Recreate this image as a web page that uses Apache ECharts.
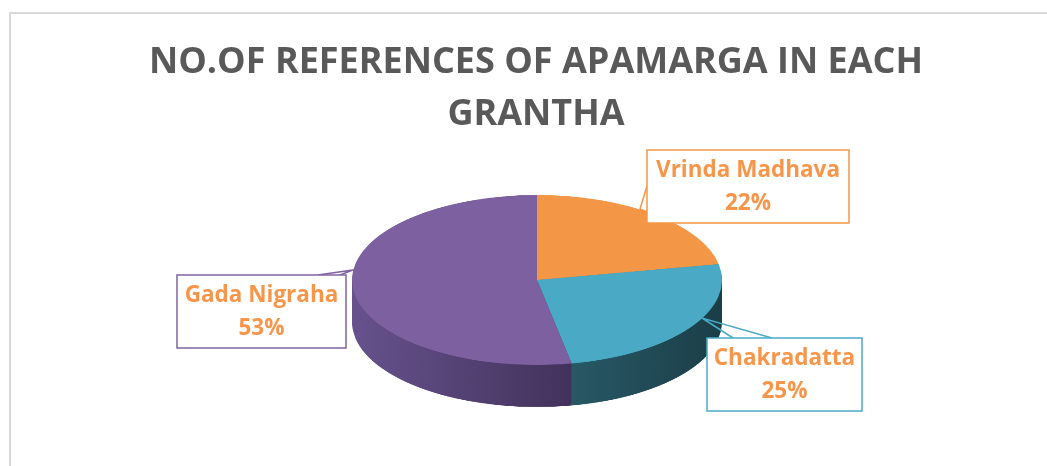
<!DOCTYPE html>
<html>
<head>
<meta charset="utf-8">
<script src="https://cdn.jsdelivr.net/npm/echarts@6/dist/echarts.min.js"></script>
<style>
html,body{margin:0;padding:0;background:#fff;overflow:hidden;width:1047px;height:466px;}
#pie{position:absolute;left:0;top:0;width:1047px;height:900px;transform:scaleY(0.4595);transform-origin:0 0;}
#top{position:absolute;left:0;top:0;width:1047px;height:466px;}
</style>
</head>
<body>
<div id="pie"></div>
<div id="top"></div>
<script>
// ---- data ----
const titleText = 'NO.OF REFERENCES OF APAMARGA IN EACH\nGRANTHA';
const categories = ['Vrinda Madhava', 'Chakradatta', 'Gada Nigraha'];
const values = [22, 25, 53];
const faceColors = ['#F39646', '#4AA9C4', '#7D60A0'];
const sideColors = [
  ['#c47634', '#9c5a24'],
  ['#2a5f6c', '#1b3e48'],
  ['#67528d', '#42325b']
];
const boxColors = ['#F79646', '#8064A2', '#4BACC6'];

// ---- pie layer (squashed to an ellipse) ----
const SCALE = 0.4595;
const CX = 537, CY_SCREEN = 280, R = 185, DEPTH_SCREEN = 42;
const cyU = CY_SCREEN / SCALE;
const depthU = DEPTH_SCREEN / SCALE;
const N = 24;

function pieData(colorFn) {
  return categories.map((c, i) => ({ name: c, value: values[i], itemStyle: { color: colorFn(i) } }));
}
const pieSeries = [];
for (let k = N; k >= 1; k--) {
  pieSeries.push({
    type: 'pie', silent: true, animation: false,
    center: [CX, cyU + depthU * k / N], radius: R,
    startAngle: 90, clockwise: true, z: N - k,
    label: { show: false }, labelLine: { show: false },
    data: pieData(i => ({
      type: 'linear', x: 0, y: 0, x2: 1, y2: 0,
      colorStops: [{ offset: 0, color: sideColors[i][0] }, { offset: 1, color: sideColors[i][1] }]
    }))
  });
}
pieSeries.push({
  type: 'pie', silent: true, animation: false,
  center: [CX, cyU], radius: R, startAngle: 90, clockwise: true, z: N + 1,
  label: { show: false }, labelLine: { show: false },
  data: pieData(i => faceColors[i])
});
const pieChart = echarts.init(document.getElementById('pie'), null, { renderer: 'canvas' });
pieChart.setOption({ animation: false, series: pieSeries });

// ---- overlay: frame, title, callout labels ----
const total = values.reduce((a, b) => a + b, 0);
const pct = values.map(v => Math.round(v / total * 100) + '%');
const labelIdx = [0, 2, 1];
const boxes = [
  { x: 647, y: 150, w: 202, h: 73 },
  { x: 177, y: 275, w: 169, h: 73 },
  { x: 707, y: 338, w: 155, h: 73 }
];
const leaders = [
  [[647, 186], [640, 209], [647, 212]],
  [[318, 275], [353, 270], [340, 275]],
  [[733, 338], [702, 318], [772, 338]]
];
const graphics = [{
  type: 'rect', silent: true,
  shape: { x: 10, y: 13, width: 1100, height: 600 },
  style: { fill: 'none', stroke: '#d9d9d9', lineWidth: 2 }
}];
boxes.forEach((b, j) => {
  const i = labelIdx[j];
  graphics.push({
    type: 'polyline', silent: true, z: 5,
    shape: { points: leaders[j] },
    style: { fill: 'none', stroke: boxColors[j], lineWidth: 1.5 }
  });
  graphics.push({
    type: 'rect', silent: true, z: 6,
    shape: { x: b.x, y: b.y, width: b.w, height: b.h },
    style: { fill: '#fff', stroke: boxColors[j], lineWidth: 1.5 }
  });
  graphics.push({
    type: 'text', silent: true, z: 7,
    style: {
      text: categories[i] + '\n' + pct[i],
      x: b.x + b.w / 2, y: b.y + b.h / 2 + 1,
      align: 'center', verticalAlign: 'middle',
      fontFamily: 'Open Sans', fontWeight: 'bold', fontSize: 22.5, lineHeight: 33,
      fill: '#F7964A'
    }
  });
});
const topChart = echarts.init(document.getElementById('top'), null, { renderer: 'canvas' });
topChart.setOption({
  animation: false,
  title: {
    text: titleText, left: 531, top: 32, textAlign: 'center',
    textStyle: { fontFamily: 'Open Sans', fontWeight: 'bold', fontSize: 36, lineHeight: 52, color: '#595959' }
  },
  graphic: graphics
});
</script>
</body>
</html>
